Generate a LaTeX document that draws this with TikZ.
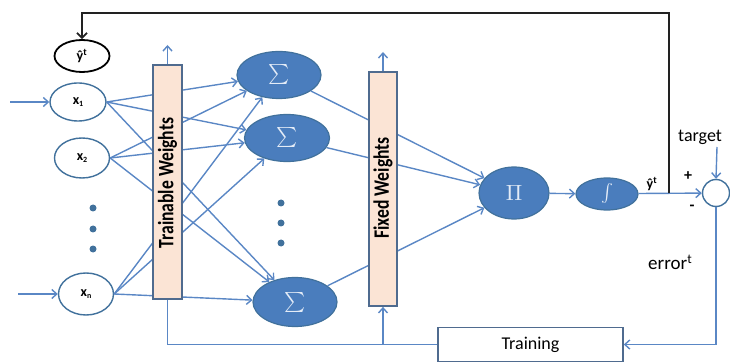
\documentclass[tikz,border=0pt]{standalone}
\usepackage{fontspec}
\setmainfont{Carlito}
\usetikzlibrary{shapes.geometric,arrows.meta}
\definecolor{lblue}{HTML}{5A87C5}
\definecolor{dblue}{HTML}{41719C}
\definecolor{mblue}{HTML}{4A7DBD}
\definecolor{peach}{HTML}{FBE4D5}
\definecolor{boxb}{HTML}{4F6B8F}
\definecolor{fb}{HTML}{222222}
\definecolor{symc}{HTML}{E4ECF7}
\tikzset{
  ln/.style={draw=lblue, line width=1.4pt},
  arr/.style={ln, -{Straight Barb[length=5pt,width=9pt,line width=1.4pt]}},
  blk/.style={draw=fb, line width=1.8pt, -{Straight Barb[length=5pt,width=10pt,line width=1.8pt]}},
  xnode/.style={ellipse, draw=dblue, line width=1.4pt, fill=white, inner sep=0pt,
    font=\fontsize{14}{14}\selectfont\bfseries},
  snode/.style={ellipse, draw=dblue, fill=mblue, line width=1.2pt, inner sep=0pt, text=symc},
  wbox/.style={rectangle, draw=boxb, fill=peach, line width=1.8pt, inner sep=0pt},
  wlabel/.style={rotate=90, font=\fontsize{22}{22}\selectfont\bfseries, text=black},
  dotm/.style={circle, fill=dblue, inner sep=0pt, minimum size=7pt},
  lab/.style={font=\fontsize{18}{18}\selectfont, text=black, inner sep=0pt}
}
\newcommand{\xsub}[1]{x\raisebox{-2pt}{\fontsize{8}{8}\selectfont #1}}
\newcommand{\bigsum}{\scalebox{2.0}{$\sum$}}
\begin{document}
\begin{tikzpicture}[x=1pt,y=-1pt]
\useasboundingbox (0,0) rectangle (730,363);
% input ellipses
\node[xnode, draw=black, line width=1.8pt, minimum width=55pt, minimum height=32pt] (yh) at (82,56) {ŷ\textsuperscript{t}};
\node[xnode, minimum width=56pt, minimum height=38pt] (x1) at (78,102) {\xsub{1}};
\node[xnode, minimum width=55pt, minimum height=40pt] (x2) at (82,158) {\xsub{2}};
\node[xnode, minimum width=55pt, minimum height=42pt] (xn) at (86,294) {\xsub{n}};
\coordinate (in1) at (10,102);
\coordinate (in2) at (18,294);
\draw[arr] (in1) -- (x1);
\draw[arr] (in2) -- (xn);
\node[dotm] (d1) at (93,208) {};
\node[dotm] (d2) at (93,229) {};
\node[dotm] (d3) at (93,249) {};
% sum nodes
\node[snode, minimum width=84pt, minimum height=47pt] (s1) at (279,75) {\bigsum};
\node[snode, minimum width=85pt, minimum height=47pt] (s2) at (287,138) {\bigsum};
\node[snode, minimum width=84pt, minimum height=49pt] (s3) at (295,302) {\bigsum};
\node[dotm] (m1) at (281,203) {};
\node[dotm] (m2) at (281,223) {};
\node[dotm] (m3) at (281,243) {};
\node[snode, minimum width=70pt, minimum height=52pt] (pi) at (514,193) {\scalebox{2.2}{$\Pi$}};
\node[snode, minimum width=62pt, minimum height=32pt] (in) at (607,194) {\scalebox{1.8}{$\int$}};
\node[circle, draw=dblue, line width=1.4pt, fill=white, minimum size=27pt, inner sep=0pt] (c) at (716,193) {};
% x -> sigma
\foreach \a in {x1,x2,xn}{
  \foreach \b in {s1,s2,s3}{
    \draw[arr] (\a.east) -- (\b);
  }
}
% sigma -> pi
\foreach \b in {s1,s2,s3}{
  \draw[arr] (\b) -- (pi);
}
\draw[arr] (pi) -- (in);
\coordinate (fbp) at (669,193.5);
\draw[arr] (in.east |- fbp) -- (c);
\node[lab, font=\fontsize{14}{14}\selectfont\bfseries] (yl) at (652,184) {ŷ\textsuperscript{t}};
% weight boxes
\node[wbox, minimum width=29pt, minimum height=234pt] (tw) at (167.5,182) {};
\node[wlabel] (twl) at (167.5,183) {\scalebox{0.8}[1]{Trainable Weights}};
\node[wbox, minimum width=28pt, minimum height=234pt] (fw) at (383,189) {};
\node[wlabel] (fwl) at (383,188) {\scalebox{0.8}[1]{Fixed Weights}};
\coordinate (twt) at (167.5,45);
\coordinate (fwt) at (383,52);
\draw[arr] (tw.north) -- (twt);
\draw[arr] (fw.north) -- (fwt);
% feedback
\coordinate (fb1) at (669,13);
\coordinate (fb2) at (82,13);
\draw[blk] (fbp) -- (fb1) -- (fb2) -- (yh.north);
% target / error
\node[lab, anchor=west] (tg) at (678,137) {target};
\coordinate (tga) at (717,147);
\draw[arr] (tga) -- (c.north);
\node[lab, font=\fontsize{16}{16}\selectfont\bfseries] (plus) at (688,176) {+};
\node[lab, font=\fontsize{16}{16}\selectfont\bfseries] (minus) at (692,208) {-};
\node[lab, anchor=west, font=\fontsize{19}{19}\selectfont] (err) at (648,262) {error\textsuperscript{t}};
% training
\node[rectangle, draw=boxb, line width=1.5pt, fill=white, minimum width=185pt, minimum height=34pt, inner sep=0pt,
  font=\fontsize{18}{18}\selectfont] (tr) at (530.5,344.5) {Training};
\coordinate (ec) at (716,344.5);
\draw[arr] (c.south) -- (ec) -- (tr.east);
\coordinate (bl) at (167.5,344.5);
\coordinate (bm) at (383,344.5);
\draw[ln] (tr.west) -- (bl) -- (tw.south);
\draw[arr] (bm) -- (fw.south);
\end{tikzpicture}
\end{document}
